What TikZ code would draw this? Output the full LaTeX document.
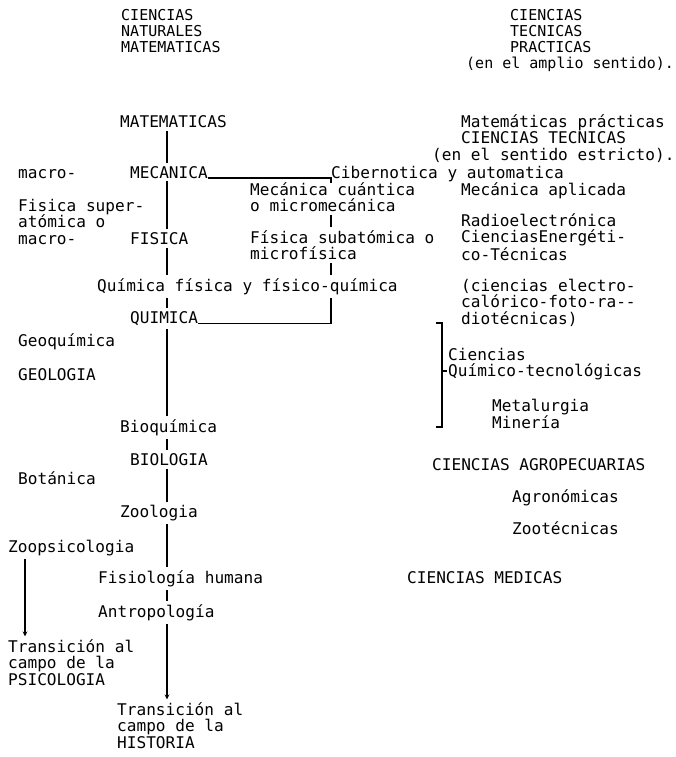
\documentclass[tikz,border=0pt]{standalone}
\usepackage{fontspec}
\setmonofont{DejaVu Sans Mono}
\usetikzlibrary{arrows}
\tikzstyle{term} = [anchor=base west, inner xsep=0pt, inner ysep=3pt, align=left, font=\ttfamily\fontsize{16.1}{16.3}\selectfont]
\tikzstyle{head} = [term, font=\ttfamily\fontsize{15}{16}\selectfont]
\tikzstyle{link} = [line width=1.2pt]
\tikzstyle{arrow} = [line width=1.2pt,->,>=stealth]

\begin{document}
\begin{tikzpicture}[x=1pt, y=-1pt]
    \useasboundingbox (0,0) rectangle (676,757);

        % Nodes (multi-line texts sit on their last line)
        \node (ciNat) [head] at (121,52.5) {CIENCIAS\\NATURALES\\MATEMATICAS};
        \node (ciTec) [head] at (510,52.5) {CIENCIAS\\TECNICAS\\PRACTICAS};
        \node (amplio) [head] at (466,68.5) {(en el amplio sentido).};
        \node (mat) [term] at (120,127.5) {MATEMATICAS};
        \node (matPrac) [term] at (461,143.8) {Matemáticas prácticas\\CIENCIAS TECNICAS};
        \node (estricto) [term] at (432,160) {(en el sentido estricto).};
        \node (macroA) [term] at (18,178) {macro-};
        \node (mec) [term] at (130,178) {MECANICA};
        \node (cib) [term] at (331,178) {Cibernotica y automatica};
        \node (mcu) [term] at (250,211.3) {Mecánica cuántica\\o micromecánica};
        \node (mecApl) [term] at (461,195) {Mecánica aplicada};
        \node (fisSup) [term] at (18,244.1) {Fisica super-\\atómica o\\macro-};
        \node (fis) [term] at (130,244.1) {FISICA};
        \node (radio) [term] at (461,260.1) {Radioelectrónica\\CienciasEnergéti-\\co-Técnicas};
        \node (sub) [term] at (250,259.8) {Física subatómica o\\microfísica};
        \node (quimFis) [term] at (97,291.5) {Química física y físico-química};
        \node (electro) [term] at (461,324.1) {(ciencias electro-\\calórico-foto-ra--\\diotécnicas)};
        \node (qui) [term] at (130,323.5) {QUIMICA};
        \node (geoq) [term] at (18,346.5) {Geoquímica};
        \node (cqt) [term] at (448,376.8) {Ciencias\\Químico-tecnológicas};
        \node (geol) [term] at (18,380.5) {GEOLOGIA};
        \node (metal) [term] at (492,428.8) {Metalurgia\\Minería};
        \node (bioq) [term] at (120,432.5) {Bioquímica};
        \node (bio) [term] at (130,465.5) {BIOLOGIA};
        \node (agro) [term] at (432,470.5) {CIENCIAS AGROPECUARIAS};
        \node (bot) [term] at (18,484.5) {Botánica};
        \node (agron) [term] at (512,502.5) {Agronómicas};
        \node (zool) [term] at (120,517.5) {Zoologia};
        \node (zoot) [term] at (512,534.5) {Zootécnicas};
        \node (zoops) [term] at (8,552.5) {Zoopsicologia};
        \node (fisHum) [term] at (98,583.5) {Fisiología humana};
        \node (med) [term] at (407,583.5) {CIENCIAS MEDICAS};
        \node (antro) [term] at (98,617.5) {Antropología};
        \node (psico) [term] at (8,685.1) {Transición al\\campo de la\\PSICOLOGIA};
        \node (hist) [term] at (117,748.1) {Transición al\\campo de la\\HISTORIA};

        \coordinate (trunk) at (167,0);
        \coordinate (branch) at (331,0);
        \coordinate (side) at (25,0);

        % Arrows
        \draw [link] (mat.south -| trunk) -- (mec.north -| trunk);
        \draw [link] (mec.south -| trunk) -- (fis.north -| trunk);
        \draw [link] (fis.south -| trunk) -- (quimFis.north -| trunk);
        \draw [link] (quimFis.south -| trunk) -- (qui.north -| trunk);
        \draw [link] (qui.south -| trunk) -- (bioq.north -| trunk);
        \draw [link] (bioq.south -| trunk) -- (bio.north -| trunk);
        \draw [link] (bio.south -| trunk) -- (zool.north -| trunk);
        \draw [link] (zool.south -| trunk) -- (fisHum.north -| trunk);
        \draw [link] (fisHum.south -| trunk) -- (antro.north -| trunk);
        \draw [arrow] (antro.south -| trunk) -- (hist.north -| trunk);
        \draw [arrow] (zoops.south -| side) -- (psico.north -| side);
        \draw [link] (mec.base east) -- (mec.base east -| branch) -- ++(0,5);
        \draw [link] (mcu.south -| branch) -- (sub.north -| branch);
        \draw [link] (sub.south -| branch) -- (quimFis.north -| branch);
        \draw [link] (quimFis.south -| branch) |- (qui.base east);
        \draw [link] (436,323) -- (442,323) -- (442,427) -- (436,427);
        \draw [link] (442,371) -- (447,371);

        \end{tikzpicture}
\end{document}
